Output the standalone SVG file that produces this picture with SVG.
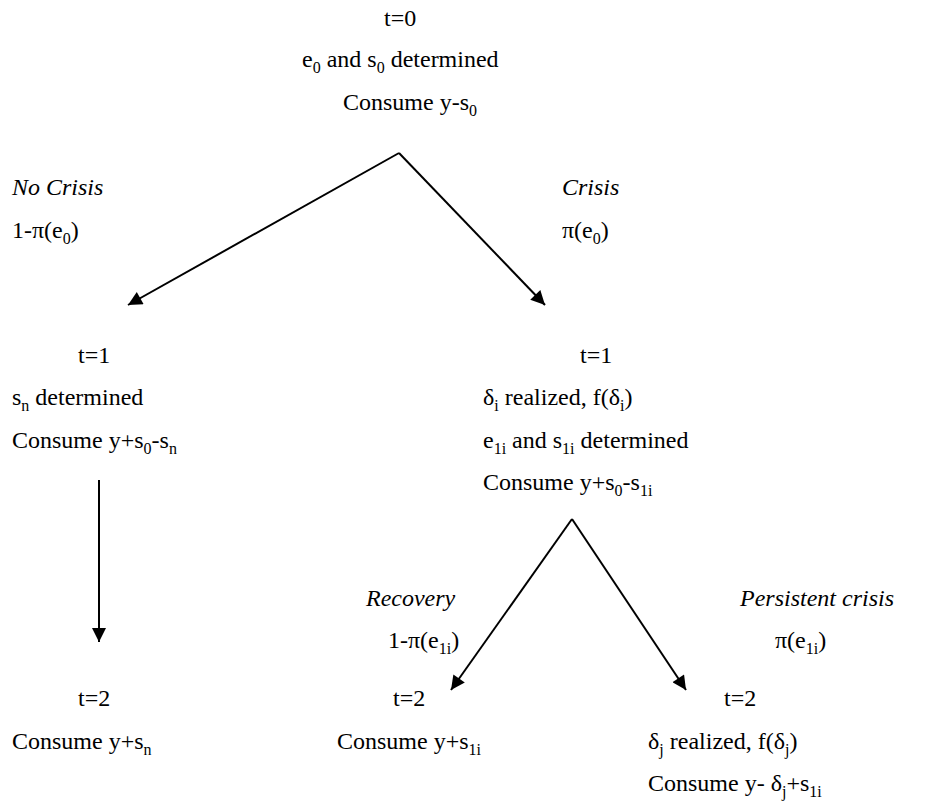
<svg xmlns="http://www.w3.org/2000/svg" width="937" height="804" viewBox="0 0 937 804">
<style>
text{font-size:24px;fill:#000}
.it{font-style:italic}
.sb{font-size:16px}
</style>
<defs>
<marker id="ah2" viewBox="0 0 10 10" markerWidth="18" markerHeight="14" refX="10" refY="5" orient="auto" markerUnits="userSpaceOnUse"><path d="M0,0 L10,5 L0,10 Z" fill="#000"/></marker>
</defs>
<g id="connectors" stroke="#000" stroke-width="2" fill="none">
<line x1="399" y1="153" x2="128" y2="305" marker-end="url(#ah2)"/>
<line x1="399" y1="153" x2="545" y2="305" marker-end="url(#ah2)"/>
<line x1="99" y1="480" x2="99" y2="642" marker-end="url(#ah2)"/>
<line x1="572" y1="519" x2="451" y2="690" marker-end="url(#ah2)"/>
<line x1="572" y1="519" x2="686" y2="690" marker-end="url(#ah2)"/>
</g>
<g id="n0">
<text font-family="Liberation Serif" x="384" y="26">t=0</text>
<text font-family="Liberation Serif" x="302" y="67">e<tspan class="sb" dy="6">0</tspan><tspan dy="-6"> and s</tspan><tspan class="sb" dy="6">0</tspan><tspan dy="-6"> determined</tspan></text>
<text font-family="Liberation Serif" x="343" y="110">Consume y-s<tspan class="sb" dy="6">0</tspan></text>
</g>
<g id="lbl-nocrisis">
<text font-family="Liberation Serif" class="it" x="12" y="195">No Crisis</text>
<text font-family="Liberation Serif" x="12" y="238">1-π(e<tspan class="sb" dy="6">0</tspan><tspan dy="-6">)</tspan></text>
</g>
<g id="lbl-crisis">
<text font-family="Liberation Serif" class="it" x="562" y="195">Crisis</text>
<text font-family="Liberation Serif" x="562" y="238">π(e<tspan class="sb" dy="6">0</tspan><tspan dy="-6">)</tspan></text>
</g>
<g id="n1a">
<text font-family="Liberation Serif" x="78" y="363">t=1</text>
<text font-family="Liberation Serif" x="12" y="405">s<tspan class="sb" dy="6">n</tspan><tspan dy="-6"> determined</tspan></text>
<text font-family="Liberation Serif" x="12" y="448">Consume y+s<tspan class="sb" dy="6">0</tspan><tspan dy="-6">-s</tspan><tspan class="sb" dy="6">n</tspan></text>
</g>
<g id="n1b">
<text font-family="Liberation Serif" x="580" y="363">t=1</text>
<text font-family="Liberation Serif" x="483" y="405">δ<tspan class="sb" dy="6">i</tspan><tspan dy="-6"> realized, f(δ</tspan><tspan class="sb" dy="6">i</tspan><tspan dy="-6">)</tspan></text>
<text font-family="Liberation Serif" x="483" y="448">e<tspan class="sb" dy="6">1i</tspan><tspan dy="-6"> and s</tspan><tspan class="sb" dy="6">1i</tspan><tspan dy="-6"> determined</tspan></text>
<text font-family="Liberation Serif" x="483" y="490">Consume y+s<tspan class="sb" dy="6">0</tspan><tspan dy="-6">-s</tspan><tspan class="sb" dy="6">1i</tspan></text>
</g>
<g id="lbl-recovery">
<text font-family="Liberation Serif" class="it" x="366" y="606">Recovery</text>
<text font-family="Liberation Serif" x="388" y="648">1-π(e<tspan class="sb" dy="6">1i</tspan><tspan dy="-6">)</tspan></text>
</g>
<g id="lbl-persistent">
<text font-family="Liberation Serif" class="it" x="740" y="606">Persistent crisis</text>
<text font-family="Liberation Serif" x="775" y="648">π(e<tspan class="sb" dy="6">1i</tspan><tspan dy="-6">)</tspan></text>
</g>
<g id="n2a">
<text font-family="Liberation Serif" x="78" y="706">t=2</text>
<text font-family="Liberation Serif" x="12" y="749">Consume y+s<tspan class="sb" dy="6">n</tspan></text>
</g>
<g id="n2b">
<text font-family="Liberation Serif" x="393" y="706">t=2</text>
<text font-family="Liberation Serif" x="337" y="749">Consume y+s<tspan class="sb" dy="6">1i</tspan></text>
</g>
<g id="n2c">
<text font-family="Liberation Serif" x="724" y="706">t=2</text>
<text font-family="Liberation Serif" x="648" y="749">δ<tspan class="sb" dy="6">j</tspan><tspan dy="-6"> realized, f(δ</tspan><tspan class="sb" dy="6">j</tspan><tspan dy="-6">)</tspan></text>
<text font-family="Liberation Serif" x="648" y="791">Consume y- δ<tspan class="sb" dy="6">j</tspan><tspan dy="-6">+s</tspan><tspan class="sb" dy="6">1i</tspan></text>
</g>
</svg>
